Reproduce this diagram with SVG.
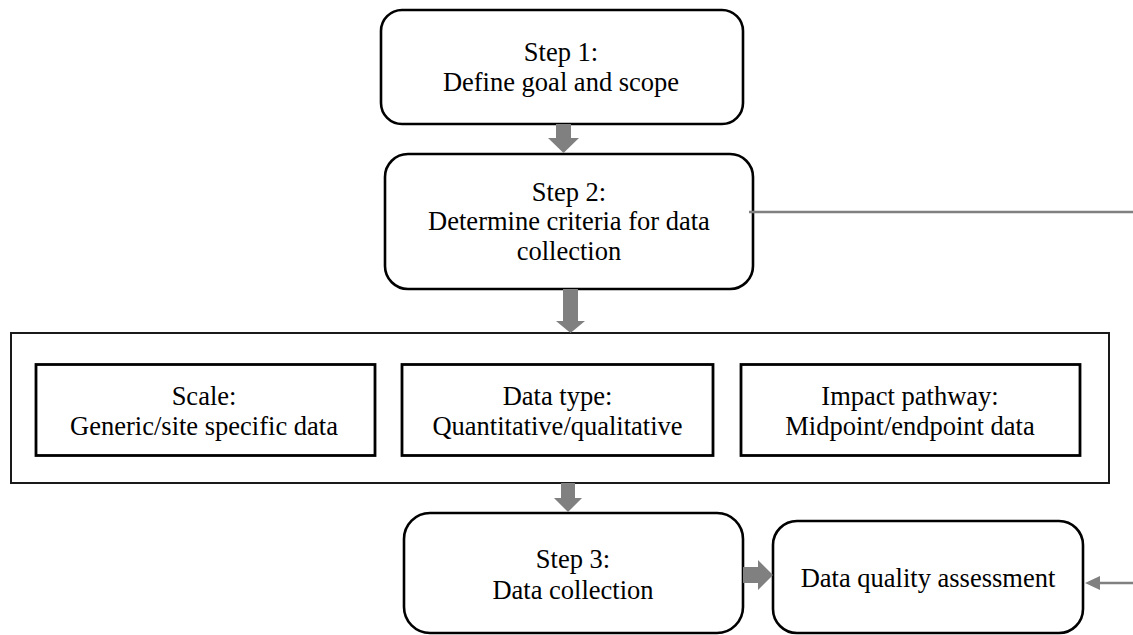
<svg xmlns="http://www.w3.org/2000/svg" width="1133" height="635" viewBox="0 0 1133 635">
<style>
  .rbox { fill: #ffffff; stroke: #000000; stroke-width: 2.6; }
  .sbox { fill: #ffffff; stroke: #000000; stroke-width: 2.8; }
  .cont { fill: #ffffff; stroke: #1a1a1a; stroke-width: 2; }
  .arr { fill: #808080; stroke: none; }
  .line { stroke: #808080; stroke-width: 2.6; fill: none; }
  text { font-family: "Liberation Serif", "Times New Roman", serif; font-size: 26.5px; fill: #000000; text-anchor: middle; }
</style>
<rect x="0" y="0" width="1133" height="635" fill="#ffffff"/>

<g id="container">
  <rect class="cont" x="11" y="333" width="1098" height="150"/>
</g>

<g id="step1">
  <rect class="rbox" x="381" y="10" width="362" height="114" rx="21" ry="21"/>
  <text x="561" y="61">Step 1:</text>
  <text x="561" y="91">Define goal and scope</text>
</g>

<g id="step2">
  <rect class="rbox" x="385" y="154" width="368" height="135" rx="23" ry="23"/>
  <text x="569" y="201">Step 2:</text>
  <text x="569" y="230">Determine criteria for data</text>
  <text x="569" y="260">collection</text>
</g>

<g id="scale">
  <rect class="sbox" x="36" y="364.5" width="339" height="91"/>
  <text x="204" y="405">Scale:</text>
  <text x="204" y="435">Generic/site specific data</text>
</g>

<g id="datatype">
  <rect class="sbox" x="402" y="364.5" width="311" height="91"/>
  <text x="557.5" y="405">Data type:</text>
  <text x="557.5" y="435">Quantitative/qualitative</text>
</g>

<g id="impact">
  <rect class="sbox" x="741" y="364.5" width="339" height="91"/>
  <text x="910" y="405">Impact pathway:</text>
  <text x="910" y="435">Midpoint/endpoint data</text>
</g>

<g id="step3">
  <rect class="rbox" x="404" y="513" width="339" height="120" rx="26" ry="26"/>
  <text x="573" y="568">Step 3:</text>
  <text x="573" y="599">Data collection</text>
</g>

<g id="dqa">
  <rect class="rbox" x="773" y="521" width="310" height="112" rx="24" ry="24"/>
  <text x="928" y="587">Data quality assessment</text>
</g>

<g id="connectors">
  <polygon class="arr" points="556,124 571,124 571,138 579,138 563.5,153 548,138 556,138"/>
  <polygon class="arr" points="563,289 578,289 578,321 585,321 570.5,333 556,321 563,321"/>
  <polygon class="arr" points="561,483 575,483 575,498 582,498 568,512 554,498 561,498"/>
  <polygon class="arr" points="743,567 758,567 758,560 773,575 758,590 758,583 743,583"/>
  <line class="line" x1="749" y1="212" x2="1133" y2="212"/>
  <line class="line" x1="1133" y1="583" x2="1098" y2="583"/>
  <polygon class="arr" points="1085,583 1100,576 1100,590"/>
</g>
</svg>
